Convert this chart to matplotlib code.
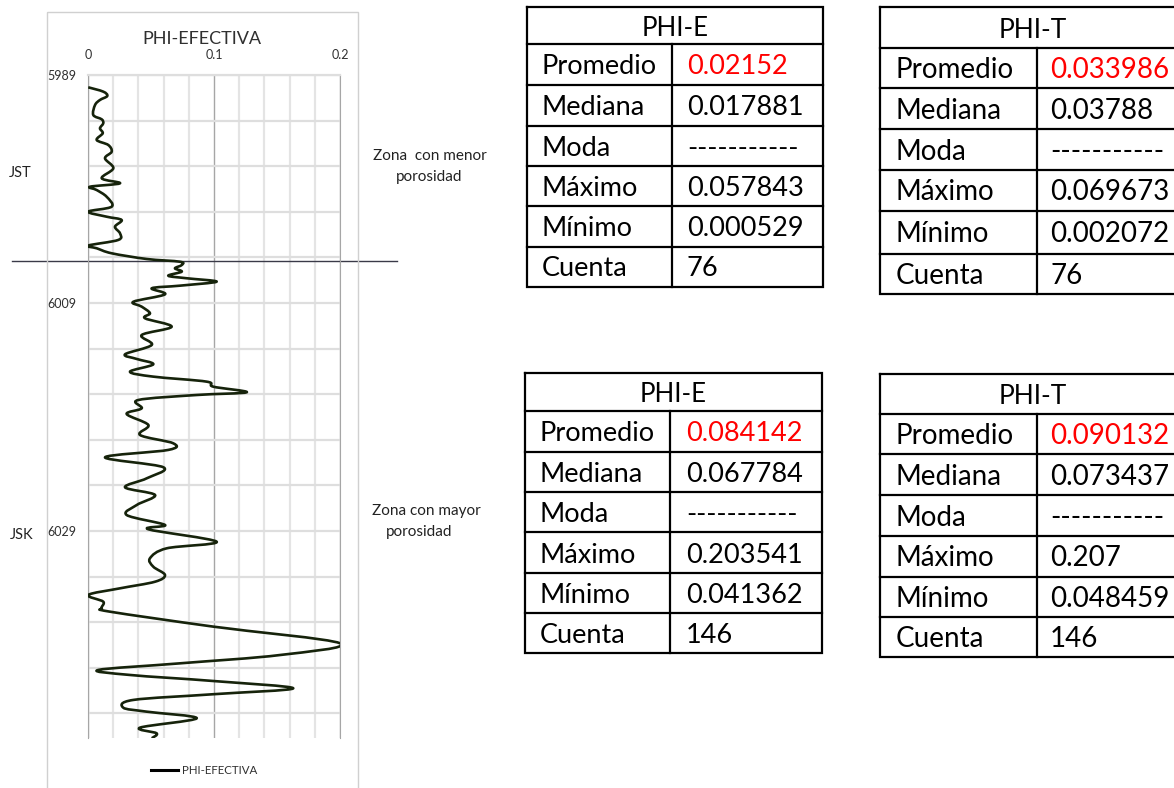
import matplotlib
matplotlib.use("Agg")
import matplotlib.pyplot as plt
from matplotlib.patches import Rectangle, PathPatch
from matplotlib.path import Path
from matplotlib.lines import Line2D
from matplotlib.ticker import FixedLocator

plt.rcParams["font.family"] = ["Lato", "DejaVu Sans"]

# registro PHI-EFECTIVA (profundidad en pies, porosidad)
profundidad = [
    5990.08, 5990.46, 5990.84, 5991.19, 5991.63, 5992.51, 5992.89, 5993.24,
    5993.68, 5994.11, 5994.70, 5995.14, 5995.73, 5996.31, 5997.18, 5998.06,
    5998.50, 5998.80, 5999.09, 5999.68, 6000.55, 6000.99, 6001.43, 6001.72,
    6002.31, 6002.89, 6003.47, 6003.96, 6004.20, 6004.64, 6005.14, 6005.38,
    6005.67, 6005.96, 6006.25, 6006.61, 6006.83, 6007.13, 6007.48, 6007.71,
    6008.24, 6008.89, 6009.32, 6009.90, 6010.34, 6011.08, 6011.81, 6012.68,
    6013.50, 6013.91, 6014.38, 6015.03, 6015.46, 6015.90, 6016.34, 6016.83,
    6017.07, 6017.51, 6018.24, 6018.74, 6019.70, 6020.58, 6021.31, 6021.89,
    6022.54, 6023.41, 6024.38, 6025.17, 6025.84, 6026.72, 6027.60, 6028.47,
    6028.85, 6029.94, 6030.52, 6031.39, 6032.13, 6032.86, 6033.45, 6034.03,
    6034.61, 6035.20, 6035.78, 6036.08, 6037.39, 6038.85, 6039.88, 6040.61,
    6041.19, 6041.63, 6042.16, 6042.80, 6043.32, 6043.82, 6044.50, 6044.85,
    6045.43, 6046.25, 6046.75, 6047.18,
]
phi_efectiva = [
    0.0002, 0.0121, 0.0153, 0.0095, 0.0056, 0.0042, 0.0109, 0.0121,
    0.0095, 0.0117, 0.0069, 0.0161, 0.0188, 0.0135, 0.0201, 0.0109,
    0.0254, 0.0016, 0.0069, 0.0148, 0.0188, 0.0002, 0.0148, 0.0267,
    0.0214, 0.0254, 0.0240, 0.0002, 0.0069, 0.0188, 0.0466, 0.0730,
    0.0744, 0.0690, 0.0744, 0.0637, 0.0783, 0.1021, 0.0730, 0.0506,
    0.0611, 0.0360, 0.0426, 0.0492, 0.0452, 0.0664, 0.0426, 0.0506,
    0.0294, 0.0387, 0.0518, 0.0333, 0.0518, 0.0942, 0.0994, 0.1260,
    0.0863, 0.0399, 0.0426, 0.0307, 0.0479, 0.0413, 0.0677, 0.0637,
    0.0135, 0.0598, 0.0466, 0.0294, 0.0532, 0.0387, 0.0307, 0.0611,
    0.0479, 0.1021, 0.0625, 0.0492, 0.0518, 0.0611, 0.0532, 0.0254,
    0.0002, 0.0121, 0.0109, 0.0175, 0.0994, 0.2000, 0.1524, 0.0730,
    0.0082, 0.0333, 0.0994, 0.1629, 0.0994, 0.0360, 0.0280, 0.0466,
    0.0863, 0.0413, 0.0545, 0.0506,
]
tope_jsk = 6005.36

estadisticos = ["Promedio", "Mediana", "Moda", "Máximo", "Mínimo", "Cuenta"]
phie_jst = ["0.02152", "0.017881", "-----------", "0.057843", "0.000529", "76"]
phit_jst = ["0.033986", "0.03788", "-----------", "0.069673", "0.002072", "76"]
phie_jsk = ["0.084142", "0.067784", "-----------", "0.203541", "0.041362", "146"]
phit_jsk = ["0.090132", "0.073437", "-----------", "0.207", "0.048459", "146"]

COLOR_CURVA = "#16230b"
W, H = 1174, 788
fig = plt.figure(figsize=(W / 100, H / 100), dpi=100)

# capa de dibujo en pixeles para marcos, textos y tablas
ov = fig.add_axes([0, 0, 1, 1], zorder=3)
ov.set_xlim(0, W)
ov.set_ylim(H, 0)
ov.axis("off")
ov.patch.set_alpha(0)

# grafico del registro
ax = fig.add_axes([88 / W, 1 - 738 / H, 252 / W, 663 / H], zorder=2)


def linea_suavizada(xs, ys):
    # linea suavizada tipo Excel (Catmull-Rom -> Bezier) que pasa por los puntos
    n = len(xs)
    verts = [(xs[0], ys[0])]
    codes = [Path.MOVETO]
    for i in range(n - 1):
        i0, i3 = max(i - 1, 0), min(i + 2, n - 1)
        c1 = (xs[i] + (xs[i + 1] - xs[i0]) / 6, ys[i] + (ys[i + 1] - ys[i0]) / 6)
        c2 = (xs[i + 1] - (xs[i3] - xs[i]) / 6, ys[i + 1] - (ys[i3] - ys[i]) / 6)
        verts += [c1, c2, (xs[i + 1], ys[i + 1])]
        codes += [Path.CURVE4] * 3
    return Path(verts, codes)


ax.add_patch(PathPatch(linea_suavizada(phi_efectiva, profundidad), fill=False,
                       ec=COLOR_CURVA, lw=1.9, joinstyle="round", zorder=3))
ax.set_xlim(0, 0.2)
ax.set_ylim(6047.16, 5989)
ax.xaxis.tick_top()
ax.set_xticks([0, 0.1, 0.2])
ax.set_xticklabels(["0", "0.1", "0.2"])
ax.xaxis.set_minor_locator(FixedLocator([0.02, 0.04, 0.06, 0.08, 0.12, 0.14, 0.16, 0.18]))
ax.set_yticks([5989, 6009, 6029])
ax.yaxis.set_minor_locator(FixedLocator([d for d in range(5993, 6047, 4) if (d - 5989) % 20]))
ax.tick_params(axis="both", which="both", length=0, labelsize=9, colors="#303030")
ax.tick_params(axis="x", pad=10)
ax.tick_params(axis="y", pad=8.5)
ax.grid(axis="x", which="major", color="#a6a6a6", lw=1.0)
ax.grid(axis="x", which="minor", color="#e4e4e4", lw=1.6)
ax.grid(axis="y", which="both", color="#dedede", lw=1.6)
ax.set_axisbelow(True)
for lado in ["left", "right"]:
    ax.spines[lado].set_color("#a6a6a6")
ax.spines["top"].set_color("#dedede")
ax.spines["top"].set_linewidth(1.6)
ax.spines["bottom"].set_visible(False)

# limite entre formaciones
ax.plot([-0.302, 1.226], [tope_jsk, tope_jsk], transform=ax.get_yaxis_transform(),
        color="#3a3a48", lw=1.0, clip_on=False)

ov.add_patch(Rectangle((47, 12), 311, 800, fill=False, ec="#d0d0d0", lw=1.0))
ov.text(202, 39, "PHI-EFECTIVA", ha="center", va="center", fontsize=13, color="#303030")
ov.text(20, 173, "JST", ha="center", va="center", fontsize=10.5, color="#222222")
ov.text(22, 535, "JSK", ha="center", va="center", fontsize=10.5, color="#222222")
ov.text(430, 156, "Zona  con menor", ha="center", va="center", fontsize=11, color="#222222")
ov.text(429, 177, "porosidad", ha="center", va="center", fontsize=11, color="#222222")
ov.text(426, 511, "Zona con mayor", ha="center", va="center", fontsize=11, color="#222222")
ov.text(419, 532, "porosidad", ha="center", va="center", fontsize=11, color="#222222")

ax.legend(handles=[Line2D([], [], color="black", lw=2.2, label="PHI-EFECTIVA")],
          loc="center", bbox_to_anchor=(204 / W, 1 - 771 / H), bbox_transform=fig.transFigure,
          frameon=False, fontsize=8.3, handlelength=2.4, handletextpad=0.3,
          labelcolor="#303030")


def dibujar_tabla(titulo, valores, x0, x1, xdiv, filas, fs, xlab, xval):
    lw = 1.6
    ov.plot([x0, x1, x1, x0, x0], [filas[0], filas[0], filas[-1], filas[-1], filas[0]],
            color="black", lw=lw, clip_on=False, solid_joinstyle="miter")
    for yf in filas[1:-1]:
        ov.plot([x0, x1], [yf, yf], color="black", lw=lw, clip_on=False)
    ov.plot([xdiv, xdiv], [filas[1], filas[-1]], color="black", lw=lw)
    cap = fs * 100 / 72 * 0.72
    yc = (filas[0] + filas[1]) / 2
    ov.text((x0 + x1) / 2, yc + cap / 2, titulo, ha="center", va="baseline",
            fontsize=fs * 0.95, color="black")
    for i, (nombre, valor) in enumerate(zip(estadisticos, valores)):
        yc = (filas[i + 1] + filas[i + 2]) / 2
        ov.text(xlab, yc + cap / 2, nombre, ha="left", va="baseline", fontsize=fs, color="black")
        ov.text(xval, yc + cap / 2, valor, ha="left", va="baseline", fontsize=fs,
                color="#ff0000" if i == 0 else "black")


dibujar_tabla("PHI-E", phie_jst, 527, 823, 672,
              [7.3, 44.3, 85, 126, 165.7, 206, 246.7, 286.7], 19.5, 542, 687)
dibujar_tabla("PHI-T", phit_jst, 880, 1186, 1037,
              [7.3, 47.7, 88.3, 129.3, 170, 210.7, 254, 294], 20, 896, 1050)
dibujar_tabla("PHI-E", phie_jsk, 525, 822, 670,
              [373.3, 411, 452.3, 492.3, 532.3, 573.3, 613.3, 653.3], 19.5, 540, 686)
dibujar_tabla("PHI-T", phit_jsk, 880, 1186, 1037,
              [374, 414.3, 454.3, 495, 536, 576.7, 616.7, 656.7], 20, 896, 1050)

fig.savefig("out.png", dpi=100)
